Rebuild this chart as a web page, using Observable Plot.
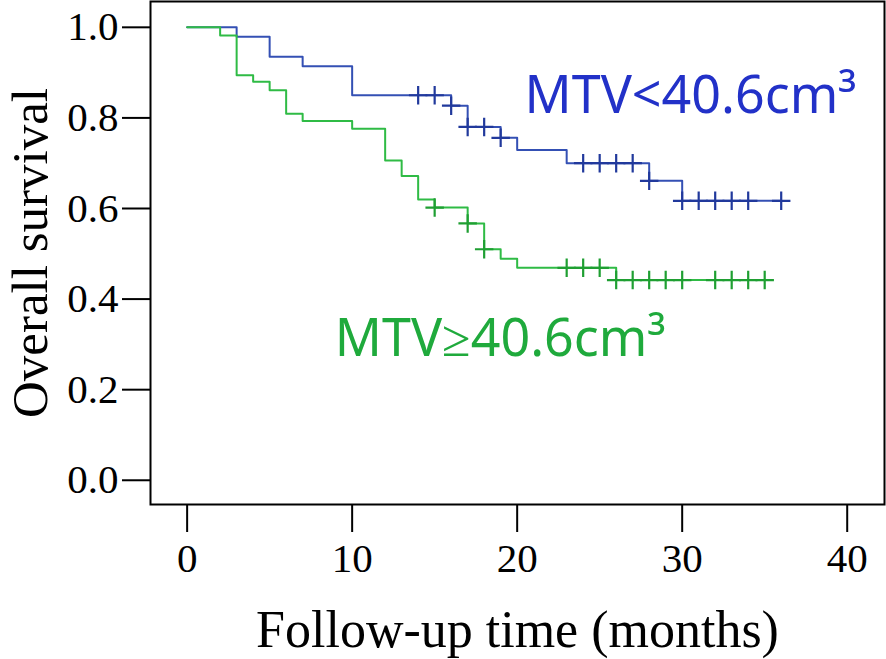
<!DOCTYPE html>
<html><head><meta charset="utf-8">
<script src="https://cdn.jsdelivr.net/npm/d3@7"></script>
<script src="https://cdn.jsdelivr.net/npm/@observablehq/plot@0.6"></script>
<style>html,body{margin:0;padding:0;background:#fff;overflow:hidden}</style>
</head><body><div id="chart"></div>
<script>
// MTV < 40.6 cm3 (blue)
const blueTimes = [0, 3, 5, 7, 10, 16, 17, 19, 20, 23, 28, 30, 36];
const blueSurv  = [1.0, 0.979, 0.935, 0.914, 0.850, 0.827, 0.780, 0.756, 0.729, 0.700, 0.661, 0.617, 0.617];
const blueCensor = [14, 15, 16, 17, 18, 19, 24, 25, 26, 27, 28, 30, 31, 32, 33, 34, 36];
// MTV >= 40.6 cm3 (green)
const greenTimes = [0, 2, 3, 4, 5, 6, 7, 10, 12, 13, 14, 15, 17, 18, 19, 20, 26, 35];
const greenSurv  = [1.0, 0.982, 0.894, 0.880, 0.861, 0.809, 0.793, 0.776, 0.706, 0.672, 0.620, 0.602, 0.567, 0.510, 0.489, 0.469, 0.442, 0.442];
const greenCensor = [15, 17, 18, 23, 24, 25, 26, 27, 28, 29, 30, 32, 33, 34, 35];

const xTicks = [0, 10, 20, 30, 40];
const yTicks = [0, 0.2, 0.4, 0.6, 0.8, 1.0];
const blueLabel = "MTV<40.6cm³";
const greenLabel = "MTV≥40.6cm³";
const xTitle = "Follow-up time (months)";
const yTitle = "Overall survival";

const stepAt = (times, surv, t) => { let s = surv[0]; for (let i = 0; i < times.length; i++) if (times[i] <= t) s = surv[i]; return s; };
const blue = blueTimes.map((t, i) => ({t, s: blueSurv[i]}));
const green = greenTimes.map((t, i) => ({t, s: greenSurv[i]}));
const blueC = blueCensor.map(t => ({t, s: stepAt(blueTimes, blueSurv, t)}));
const greenC = greenCensor.map(t => ({t, s: stepAt(greenTimes, greenSurv, t)}));

const BL = "#3450b4", BLC = "#21399c", BLT = "#2231c8";
const GR = "#2fbb45", GRC = "#1f9f32", GRT = "#1faa3c";

const chart = Plot.plot({
  width: 886, height: 659,
  marginLeft: 150, marginRight: 2, marginTop: 1, marginBottom: 155,
  style: {fontFamily: "Liberation Serif", fontSize: "40px", background: "#fff"},
  x: {domain: [-2.22, 42.26]},
  y: {domain: [-0.0535, 1.057]},
  marks: [
    Plot.frame({stroke: "black", strokeWidth: 2}),
    Plot.axisX({ticks: xTicks, tickSize: 28, tickPadding: 10, strokeWidth: 2, label: null, fontSize: 41}),
    Plot.axisY({ticks: yTicks, tickSize: 28, tickPadding: 4, strokeWidth: 2, tickFormat: d3.format(".1f"), label: null, fontSize: 41}),
    Plot.line(blue, {x: "t", y: "s", curve: "step-after", stroke: BL, strokeWidth: 2}),
    Plot.line(green, {x: "t", y: "s", curve: "step-after", stroke: GR, strokeWidth: 2}),
    Plot.dot(blueC, {x: "t", y: "s", symbol: "plus", r: 6, stroke: BLC, strokeWidth: 2.2}),
    Plot.dot(greenC, {x: "t", y: "s", symbol: "plus", r: 6, stroke: GRC, strokeWidth: 2.2}),
    Plot.text([blueLabel], {x: 20.45, y: 0.81, text: d => d, textAnchor: "start", lineAnchor: "bottom", fill: BLT, fontFamily: "Noto Sans", fontSize: 52, ariaLabel: "blue-label"}),
    Plot.text([greenLabel], {x: 8.95, y: 0.275, text: d => d, textAnchor: "start", lineAnchor: "bottom", fill: GRT, fontFamily: "Noto Sans", fontSize: 52, ariaLabel: "green-label"}),
    Plot.text([xTitle], {frameAnchor: "bottom", dy: 126, text: d => d, textAnchor: "middle", lineAnchor: "middle", fontSize: 52}),
    Plot.text([yTitle], {frameAnchor: "left", dx: -120, rotate: -90, text: d => d, textAnchor: "middle", lineAnchor: "middle", fontSize: 51})
  ]
});
d3.select(chart).selectAll('g[aria-label="blue-label"] text, g[aria-label="green-label"] text').attr("letter-spacing", "2px");
document.getElementById("chart").appendChild(chart);
</script>
</body></html>
